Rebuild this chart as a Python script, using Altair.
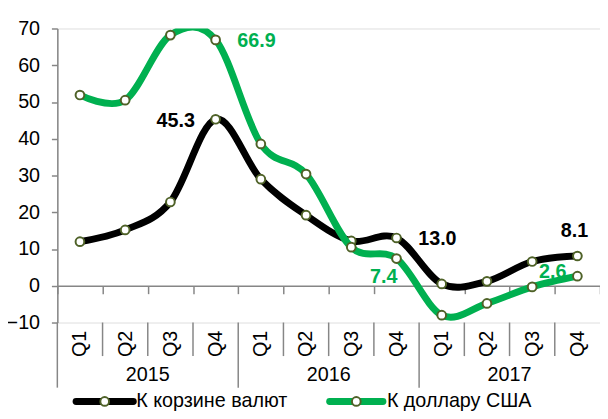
import altair as alt
import pandas as pd

years = ["2015", "2016", "2017"]
quarters = ["Q1", "Q2", "Q3", "Q4"]
series_names = ["К корзине валют", "К доллару США"]
basket = [12.0, 15.2, 22.8, 45.3, 29.0, 19.2, 12.2, 13.0, 0.5, 1.2, 6.6, 8.1]
usd = [51.9, 50.5, 68.2, 66.9, 38.6, 30.4, 10.5, 7.4, -8.0, -4.8, -0.3, 2.6]
y_ticks = [-10, 0, 10, 20, 30, 40, 50, 60, 70]

keys = [f"{y} {q}" for y in years for q in quarters]
rows = []
for name, vals in zip(series_names, [basket, usd]):
    for k, v in zip(keys, vals):
        rows.append({"key": k, "series": name, "value": v})
df = pd.DataFrame(rows)
sep_df = pd.DataFrame({"key": keys, "long": [k.endswith("Q1") for k in keys]})
year_df = pd.DataFrame({"key": [f"{y} Q3" for y in years], "year": years})

W, H = 550, 298
FONT = "Liberation Sans"
GRAY = "#868686"
BLACK = "#000000"
GREEN = "#00B050"
OLIVE = "#4F6228"
colors = {series_names[0]: BLACK, series_names[1]: GREEN}
PT_SIZE = 78

xenc = alt.X(
    "key:N", sort=keys, bandPosition=0.5,
    scale=alt.Scale(type="band", paddingInner=0, paddingOuter=0),
    axis=alt.Axis(
        title=None, orient="bottom", offset=-H / 8, domainColor=GRAY, domainWidth=1.5,
        tickColor=GRAY, tickWidth=1.5, tickSize=8, tickBand="extent",
        labelAngle=-90, labelPadding=37, labelExpr="split(datum.label, ' ')[1]",
        labelFontSize=20, labelColor="black", labelOverlap=False, labelFont=FONT,
    ),
)
yenc = alt.Y(
    "value:Q",
    scale=alt.Scale(domain=[-10, 70], nice=False, zero=False),
    axis=alt.Axis(
        title=None, values=y_ticks, grid=False, domainColor=GRAY, domainWidth=1.5,
        tickColor=GRAY, tickWidth=1.5, tickSize=6, labelPadding=12,
        labelFontSize=20, labelColor="black", labelFont=FONT,
    ),
)

base = alt.Chart(df).encode(x=xenc, y=yenc)


def series_layers(name):
    f = alt.datum.series == name
    line = base.transform_filter(f).mark_line(
        interpolate="cardinal", strokeWidth=7, clip=True, color=colors[name]
    )
    pts = base.transform_filter(f).mark_circle(
        fill="white", stroke=OLIVE, strokeWidth=2, size=PT_SIZE, opacity=1
    )
    return [line, pts]


def label(name, key, align, dx, dy):
    return base.transform_filter(
        (alt.datum.series == name) & (alt.datum.key == key)
    ).mark_text(
        align=align, baseline="middle", dx=dx, dy=dy, fontSize=20,
        fontWeight="bold", font=FONT, color=colors[name]
    ).encode(text=alt.Text("value:Q", format=".1f"))


labels = [
    label(series_names[0], "2015 Q4", "right", -21, 2),
    label(series_names[1], "2015 Q4", "left", 22, 1),
    label(series_names[0], "2016 Q4", "left", 22, 1),
    label(series_names[1], "2016 Q4", "right", 1, 19),
    label(series_names[0], "2017 Q4", "center", -3, -25),
    label(series_names[1], "2017 Q4", "right", -11, -4),
]

sep_x = alt.X("key:N", sort=keys, bandPosition=0)
seps_short = alt.Chart(sep_df).transform_filter(~alt.datum.long).mark_rule(
    color=GRAY, strokeWidth=1.5
).encode(x=sep_x, y=alt.value(H), y2=alt.value(H + 34))
seps_long = alt.Chart(sep_df).transform_filter(alt.datum.long).mark_rule(
    color=GRAY, strokeWidth=1.5
).encode(x=sep_x, y=alt.value(H), y2=alt.value(H + 66))
year_text = alt.Chart(year_df).mark_text(
    fontSize=20, font=FONT, color="black", baseline="middle"
).encode(x=alt.X("key:N", sort=keys, bandPosition=0), y=alt.value(H + 53), text="year:N")


def legend_item(name, x0, x1, tx):
    d = alt.Data(values=[{"series": name}])
    ly = H + 80
    line = alt.Chart(d).mark_rule(strokeWidth=7, color=colors[name], strokeCap="round").encode(
        x=alt.value(x0), x2=alt.value(x1), y=alt.value(ly)
    )
    pt = alt.Chart(d).mark_circle(
        fill="white", stroke=OLIVE, strokeWidth=2, size=PT_SIZE, opacity=1
    ).encode(x=alt.value((x0 + x1) / 2), y=alt.value(ly))
    txt = alt.Chart(d).mark_text(
        align="left", baseline="middle", fontSize=20, font=FONT, color="black"
    ).encode(x=alt.value(tx), y=alt.value(ly), text="series:N")
    return [line, pt, txt]


layers = (
    [seps_short, seps_long, year_text]
    + labels
    + series_layers(series_names[0])
    + series_layers(series_names[1])
    + legend_item(series_names[0], 19, 77, 80)
    + legend_item(series_names[1], 276, 330, 334)
)

chart = alt.layer(*layers).properties(
    width=W, height=H,
    autosize=alt.AutoSizeParams(type="none"),
    padding={"left": 50, "top": 18, "right": 0, "bottom": 95},
).configure_view(stroke=None).configure(font=FONT)

chart.save("out.html", embed_options={"renderer": "svg", "actions": False})
